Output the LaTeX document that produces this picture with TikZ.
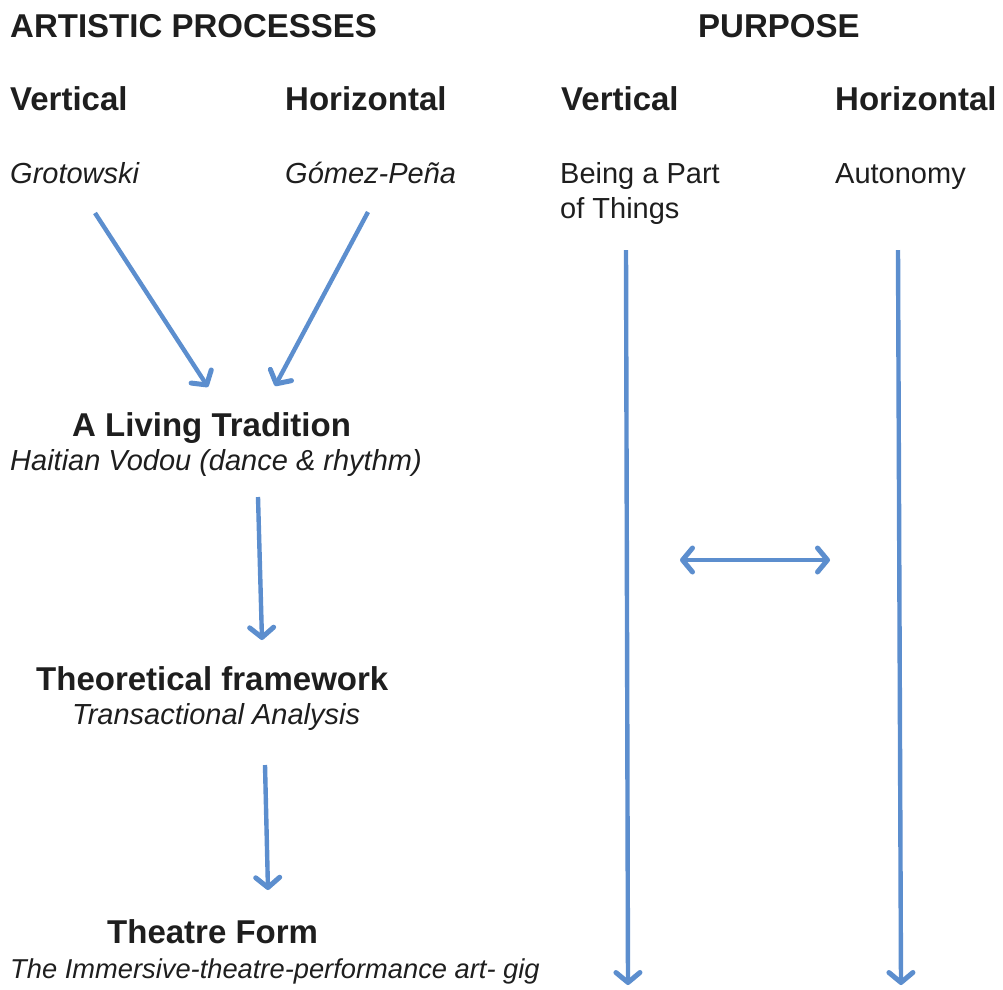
\documentclass[tikz,border=0pt]{standalone}
\usepackage{fontspec}
\setmainfont{Liberation Sans}
\usetikzlibrary{arrows.meta}
\definecolor{arrowblue}{RGB}{92,142,206}
\definecolor{txt}{RGB}{30,30,30}
\begin{document}
\begin{tikzpicture}[x=1pt,y=-1pt,
  lbl/.style={anchor=base west,inner sep=0pt,text=txt},
  bighead/.style={lbl,font=\fontsize{33}{36}\selectfont\bfseries},
  subtext/.style={lbl,font=\fontsize{29}{35}\selectfont},
  subital/.style={lbl,font=\fontsize{29}{35}\selectfont\itshape},
  flow/.style={draw=arrowblue,line width=4.4pt,-{Straight Barb[length=10pt,width=24pt,line width=5pt,round]}},
  bothflow/.style={draw=arrowblue,line width=4.4pt,{Straight Barb[length=10pt,width=24pt,line width=5pt,round]}-{Straight Barb[length=10pt,width=24pt,line width=5pt,round]}}
]
\useasboundingbox (0,0) rectangle (1003,989);
% headings
\node[bighead] (ap) at (10,37) {ARTISTIC PROCESSES};
\node[bighead] (pu) at (698,37) {PURPOSE};
\node[bighead] (v1) at (10,110) {Vertical};
\node[bighead] (h1) at (285,110) {Horizontal};
\node[bighead] (v2) at (561,110) {Vertical};
\node[bighead] (h2) at (835,110) {Horizontal};
% sources
\node[subital] (gro) at (10,183) {Grotowski};
\node[subital] (gom) at (285,183) {Gómez-Peña};
\node[subtext] (bp1) at (560,183) {Being a Part};
\node[subtext] (bp2) at (560,218) {of Things};
\node[subtext] (aut) at (835,183) {Autonomy};
% chain
\node[bighead] (lt) at (72,436) {A Living Tradition};
\node[subital] (hv) at (10,470) {Haitian Vodou (dance \& rhythm)};
\node[bighead] (tf) at (36,690) {Theoretical framework};
\node[subital] (ta) at (72,724) {Transactional Analysis};
\node[bighead] (th) at (107,943) {Theatre Form};
\node[lbl,font=\fontsize{27.3}{33}\selectfont\itshape] (im) at (10,978) {The Immersive-theatre-performance art- gig};
% arrow endpoints
\coordinate (a1s) at (95,213);  \coordinate (a1e) at (208,387);
\coordinate (a2s) at (368,212); \coordinate (a2e) at (275,386);
\coordinate (a3s) at (258,497); \coordinate (a3e) at (262,640);
\coordinate (a4s) at (265,765); \coordinate (a4e) at (268,890);
\coordinate (a5s) at (626,250); \coordinate (a5e) at (628,985);
\coordinate (a6s) at (898,250); \coordinate (a6e) at (901,985);
\coordinate (a7s) at (680,560); \coordinate (a7e) at (830,560);
\draw[flow] (a1s) -- (a1e);
\draw[flow] (a2s) -- (a2e);
\draw[flow] (a3s) -- (a3e);
\draw[flow] (a4s) -- (a4e);
\draw[flow] (a5s) -- (a5e);
\draw[flow] (a6s) -- (a6e);
\draw[bothflow] (a7s) -- (a7e);
\end{tikzpicture}
\end{document}
